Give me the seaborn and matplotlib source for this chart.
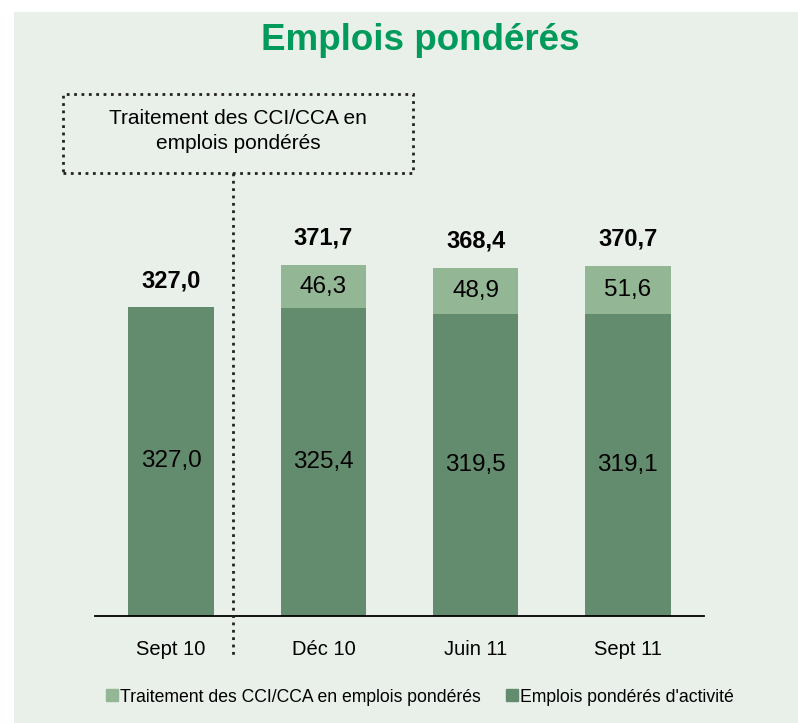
import pandas as pd
import seaborn as sns
import matplotlib.pyplot as plt
from matplotlib.patches import Rectangle
from matplotlib.lines import Line2D

periods = ['Sept 10', 'Déc 10', 'Juin 11', 'Sept 11']
activite = [327.0, 325.4, 319.5, 319.1]
cci_cca = [0.0, 46.3, 48.9, 51.6]
totals = [327.0, 371.7, 368.4, 370.7]

light = '#93B795'
dark = '#628C6D'
bg = '#E9F0EA'


def fmt(v):
    return f'{v:.1f}'.replace('.', ',')


def main():
    sns.set_style('white')
    plt.rcParams['font.family'] = ['Liberation Sans', 'DejaVu Sans']
    plt.rcParams['text.color'] = 'black'
    plt.rcParams['xtick.color'] = 'black'

    df = pd.DataFrame({'periode': periods, 'activite': activite,
                       'cci': cci_cca, 'total': totals})

    fig = plt.figure(figsize=(7.98, 7.23), dpi=100, facecolor='white')
    fig.add_artist(Rectangle((14 / 798, 0), 1, 1 - 12 / 723, transform=fig.transFigure,
                             facecolor=bg, edgecolor='none', zorder=-10))

    ax = fig.add_axes([95 / 798, 1 - 616 / 723, 609 / 798, 420 * 0.945 / 723])
    ax.set_facecolor('none')

    sns.barplot(data=df, x='periode', y='total', color=light, width=0.56,
                saturation=1, linewidth=0, ax=ax)
    sns.barplot(data=df, x='periode', y='activite', color=dark, width=0.56,
                saturation=1, linewidth=0, ax=ax)
    ax.set_ylim(0, 420)
    ax.set_xlim(-0.5, 3.5)

    for i in range(len(periods)):
        ax.text(i, activite[i] / 2, fmt(activite[i]), ha='center', va='center', fontsize=17.5)
        if cci_cca[i] > 0:
            ax.text(i, activite[i] + cci_cca[i] / 2, fmt(cci_cca[i]),
                    ha='center', va='center', fontsize=17.5)
        ax.text(i, totals[i] + 28, fmt(totals[i]), ha='center', va='center',
                fontsize=17, fontweight='bold')

    sns.despine(ax=ax, left=True)
    ax.spines['bottom'].set_color('black')
    ax.spines['bottom'].set_linewidth(1.3)
    ax.set_yticks([])
    ax.set_xlabel('')
    ax.set_ylabel('')
    ax.tick_params(axis='x', length=0, labelsize=14.5, pad=17)

    fig.text(420 / 798, 1 - 41 / 723, 'Emplois pondérés', ha='center', va='center',
             fontsize=26.5, fontweight='bold', color='#009A5A')

    fig.add_artist(Rectangle((63 / 798, 1 - 173 / 723), 350 / 798, 79 / 723,
                             transform=fig.transFigure, fill=False,
                             edgecolor='#222222', linestyle=':', linewidth=2))
    fig.text(238 / 798, 1 - 131 / 723, 'Traitement des CCI/CCA en\nemplois pondérés',
             ha='center', va='center', fontsize=15, linespacing=1.35)
    fig.add_artist(Line2D([233 / 798, 233 / 798], [1 - 173 / 723, 1 - 658 / 723],
                          transform=fig.transFigure, color='#222222',
                          linestyle=':', linewidth=2))

    handles = [Line2D([], [], marker='s', linestyle='none', color=light, markersize=9),
               Line2D([], [], marker='s', linestyle='none', color=dark, markersize=9)]
    fig.legend(handles, ['Traitement des CCI/CCA en emplois pondérés',
                         "Emplois pondérés d'activité"],
               loc='center', bbox_to_anchor=(420 / 798, 1 - 697 / 723), ncol=2,
               frameon=False, fontsize=12.7, handlelength=0.7, handletextpad=0.1,
               columnspacing=1.4)

    fig.savefig('out.png', dpi=100, facecolor='white')


if __name__ == '__main__':
    main()
